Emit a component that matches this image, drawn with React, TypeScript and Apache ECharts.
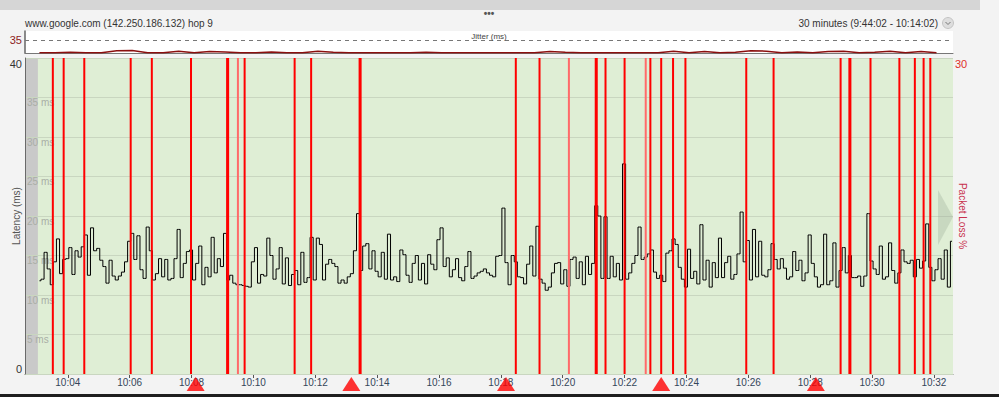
import React, { useEffect, useRef } from 'react';
import * as echarts from 'echarts';

// ---- data ----
const titleText = 'www.google.com (142.250.186.132) hop 9';
const rangeText = '30 minutes (9:44:02 - 10:14:02)';
const tickLabels = ['10:04', '10:06', '10:08', '10:10', '10:12', '10:14', '10:16', '10:18', '10:20', '10:22', '10:24', '10:26', '10:28', '10:30', '10:32'];
const windowStart = '10:02:37';
const windowEnd = '10:32:37';
const sampleStart = '10:03:05';
const sampleStepSec = 6;
const latencyTicks = [0, 5, 10, 15, 20, 25, 30, 35, 40];
const latencyMs = [
  11.8, 12.0, 15.4, 13.3, 11.3, 14.2, 17.1, 12.7, 14.5, 14.6,
  16.0, 12.6, 15.6, 14.8, 16.1, 17.6, 12.5, 18.5, 15.6, 15.9,
  14.4, 13.6, 11.5, 14.4, 12.4, 11.9, 12.4, 12.9, 14.2, 16.8,
  17.8, 14.5, 17.5, 13.2, 12.1, 18.6, 15.6, 11.9, 12.7, 14.6,
  12.3, 14.5, 11.9, 12.1, 14.6, 18.3, 12.2, 14.0, 15.5, 15.7,
  11.9, 14.0, 16.2, 11.3, 13.5, 12.3, 17.3, 12.8, 14.6, 13.6,
  17.8, 11.9, 12.5, 11.5, 11.3, 11.3, 11.2, 11.1, 11.0, 14.2,
  16.0, 11.5, 12.6, 12.4, 17.2,
  15.0, 12.0, 13.3, 16.0, 11.4, 14.7, 11.2, 12.6, 13.1, 11.3,
  15.4, 11.6, 12.2, 17.3, 11.9, 17.2, 16.4, 11.9, 13.9, 14.5,
  14.0, 13.6, 11.5, 11.9, 11.5, 12.3, 12.7, 15.6, 20.3, 13.1,
  16.2, 16.5, 13.3, 15.6, 13.0, 12.3, 15.4, 12.0, 17.7, 11.9,
  12.3, 11.7, 15.7, 15.1, 12.5, 11.6, 14.0, 15.0, 11.9, 14.0,
  11.4, 15.1, 13.9, 13.2, 17.0, 18.5, 13.6, 14.7, 12.3, 13.2,
  14.6, 12.2, 11.8, 13.6, 15.5, 12.1, 12.4, 12.8, 13.0, 13.3,
  12.8, 12.5, 12.3, 14.9, 15.0,
  21.0, 14.1, 11.3, 15.0, 14.2, 12.3, 12.2, 11.4, 13.9, 16.2,
  12.4, 18.7, 12.0, 11.5, 10.6, 11.0, 12.8, 14.0, 14.1, 11.4,
  13.2, 11.1, 14.5, 14.8, 12.1, 14.2, 11.3, 14.9, 12.6, 14.0,
  21.3, 20.0, 12.1, 19.9, 12.1, 14.9, 12.3, 14.0, 11.9, 26.6,
  12.0, 12.8, 14.0, 15.0, 18.6, 14.5, 14.8, 15.2, 15.7, 12.9,
  12.1, 12.5, 11.7, 15.3, 15.6, 17.1, 16.4, 13.5, 12.0, 11.0,
  15.8, 12.1, 13.0, 11.4, 18.9, 11.9, 14.4, 11.0, 14.1, 12.2,
  17.2, 12.2, 14.1, 14.9,
  12.0, 12.6, 15.2, 20.5, 14.2, 16.9, 11.9, 18.3, 12.3, 16.8,
  12.5, 12.3, 13.2, 16.5, 14.5, 13.3, 14.6, 13.4, 12.0, 12.3,
  15.5, 13.1, 14.4, 11.8, 12.8, 17.6, 14.0, 12.3, 11.0, 11.3,
  17.7, 11.3, 11.8, 16.6, 11.0, 13.1, 16.0, 12.8, 15.0, 12.2,
  12.2, 12.4, 11.1, 12.4, 20.3, 14.3, 13.3, 12.6, 16.2, 12.0,
  12.3, 16.6, 13.1, 11.5, 12.8, 15.7, 14.2, 14.0, 14.4, 12.3,
  14.5, 13.4, 14.3, 19.0, 13.5, 11.8, 13.2, 14.6, 12.0, 15.7,
  11.0, 16.8,
];
const jitterStart = '10:03:05';
const jitterStepSec = 30;
const jitterMs = [
  1, 1, 2, 1, 1, 6, 7, 1, 1, 5,
  1, 4, 3, 1, 1, 3, 1, 1, 5, 2,
  1, 1, 1, 1, 1, 2, 1, 1, 1, 1,
  1, 1, 1, 4, 2, 1, 1, 1, 1, 1,
  1, 5, 1, 4, 1, 2, 6, 5, 1, 3,
  1, 4, 5, 1, 2, 5, 1, 4, 1,
];
const jitterThreshold = 35;
const jitterMax = 60;
const lossTimes = [
  '10:03:31', '10:03:52', '10:04:32', '10:06:02', '10:06:43', '10:07:59',
  '10:09:09', '10:09:11', '10:09:43', '10:11:20', '10:11:52', '10:13:26', '10:13:28',
  '10:18:29', '10:19:15', '10:21:04', '10:21:06', '10:21:23', '10:22:00', '10:22:50',
  '10:23:11', '10:23:34', '10:23:58', '10:25:56', '10:26:49', '10:28:59', '10:29:16',
  '10:29:18', '10:29:57', '10:30:53', '10:31:23', '10:31:40', '10:31:53',
];
const partialLossTimes = ['10:09:30', '10:20:12', '10:22:41'];
const lossPercent = 100;
const lossMax = 30;
const markerTimes = ['10:08:08', '10:13:10', '10:18:10', '10:23:11', '10:28:11'];

// ---- helpers ----
const toMin = (s: string) => {
  const p = s.split(':').map(Number);
  return p[0] * 60 + p[1] + (p[2] || 0) / 60;
};
const fmtMin = (m: number) => {
  const r = Math.round(m);
  const h = Math.floor(r / 60);
  const mm = r % 60;
  return `${h}:${mm < 10 ? '0' : ''}${mm}`;
};

const FONT = 'Liberation Sans, Arial, sans-serif';

export default function App() {
  const ref = useRef<HTMLDivElement>(null);
  useEffect(() => {
    if (!ref.current) return;
    const chart = echarts.init(ref.current, undefined, { renderer: 'svg' });
    const t0 = toMin(windowStart);
    const t1 = toMin(windowEnd);
    const s0 = toMin(sampleStart);
    const j0 = toMin(jitterStart);
    const tickVals = tickLabels.map(toMin);
    const latData = latencyMs.map((v, i) => [s0 + (i * sampleStepSec) / 60, v]);
    const jitData = jitterMs.map((v, i) => [j0 + (i * jitterStepSec) / 60, v]);
    const lossData = [
      ...lossTimes.map((t) => ({ value: [toMin(t), lossPercent] })),
      ...partialLossTimes.map((t) => ({ value: [toMin(t), lossPercent], itemStyle: { color: '#ff6a6a' } })),
    ];
    const markData = markerTimes.map((t) => [toMin(t), 0]);

    const option: any = {
      animation: false,
      backgroundColor: '#f3f3f3',
      textStyle: { fontFamily: FONT },
      grid: [
        { left: 25, top: 58, width: 928, height: 316, show: true, backgroundColor: '#dfeed5', borderWidth: 0, outerBoundsMode: 'none', containLabel: false },
        { left: 25, top: 31, width: 928, height: 22, show: true, backgroundColor: '#ffffff', borderWidth: 0, outerBoundsMode: 'none', containLabel: false },
      ],
      xAxis: [
        {
          type: 'value', gridIndex: 0, min: t0, max: t1,
          axisLine: { show: true, lineStyle: { color: '#6a6a6a', width: 1 } },
          axisTick: { show: true, customValues: tickVals, length: 4, lineStyle: { color: '#555' } },
          axisLabel: { customValues: tickVals, formatter: (v: number) => fmtMin(v), color: '#34465a', fontSize: 10, margin: 3, fontFamily: FONT },
          splitLine: { show: false },
        },
        {
          type: 'value', gridIndex: 1, min: t0, max: t1, position: 'top',
          axisLine: { show: true, lineStyle: { color: '#777', width: 1 } },
          axisTick: { show: false }, axisLabel: { show: false }, splitLine: { show: false },
        },
      ],
      yAxis: [
        {
          type: 'value', gridIndex: 0, min: 0, max: 40, interval: 5, position: 'left', z: 3,
          axisLine: { show: false }, axisTick: { show: false },
          axisLabel: {
            inside: true, margin: 2, verticalAlign: 'top', color: '#a9aea6', fontSize: 10, fontFamily: FONT,
            formatter: (v: number) => (v === latencyTicks[0] || v === latencyTicks[latencyTicks.length - 1] ? '' : `${v} ms`),
          },
          splitLine: { show: true, lineStyle: { color: '#c9d6c0', width: 1 } },
        },
        {
          type: 'value', gridIndex: 0, min: 0, max: 40, interval: 40, position: 'left', z: 3,
          name: 'Latency (ms)', nameLocation: 'middle', nameGap: 4, nameMoveOverlap: false,
          nameTextStyle: { color: '#555', fontSize: 10, fontFamily: FONT },
          axisLine: { show: true, lineStyle: { color: '#6a6a6a', width: 1 } }, axisTick: { show: false },
          axisLabel: { color: '#333', fontSize: 11, margin: 3, verticalAlignMaxLabel: 'top', verticalAlignMinLabel: 'bottom', fontFamily: FONT },
          splitLine: { show: false },
        },
        {
          type: 'value', gridIndex: 0, min: 0, max: lossMax, interval: lossMax, position: 'right',
          name: 'Packet Loss %', nameLocation: 'middle', nameRotate: -90, nameGap: 4, nameMoveOverlap: false,
          nameTextStyle: { color: '#c8304c', fontSize: 10, fontFamily: FONT },
          axisLine: { show: false }, axisTick: { show: false },
          axisLabel: { color: '#e0302a', fontSize: 11, margin: 2, verticalAlignMaxLabel: 'top', fontFamily: FONT, formatter: (v: number) => (v === 0 ? '' : String(v)) },
          splitLine: { show: false },
        },
        {
          type: 'value', gridIndex: 1, min: 0, max: jitterMax, position: 'left',
          axisLine: { show: true, lineStyle: { color: '#666', width: 1.5 } }, axisTick: { show: false },
          axisLabel: { customValues: [jitterThreshold], color: '#8e1c1c', fontSize: 11, margin: 3, fontFamily: FONT },
          splitLine: { show: false },
        },
      ],
      series: [
        {
          type: 'line', xAxisIndex: 0, yAxisIndex: 0, data: [], z: 1, silent: true,
          markArea: {
            silent: true, itemStyle: { color: '#c9c9c9' },
            data: [[{ xAxis: t0 }, { xAxis: s0 - sampleStepSec / 120 }]],
          },
        },
        {
          type: 'line', xAxisIndex: 0, yAxisIndex: 0, data: latData, step: 'middle', showSymbol: false,
          lineStyle: { color: '#000', width: 1 }, z: 4,
        },
        {
          type: 'bar', xAxisIndex: 0, yAxisIndex: 2, data: lossData, barWidth: 2, clip: true,
          itemStyle: { color: '#ff0000' }, z: 5,
        },
        {
          type: 'scatter', xAxisIndex: 0, yAxisIndex: 0, data: markData, symbol: 'triangle',
          symbolSize: [18, 14], symbolOffset: [0, 10], clip: false, itemStyle: { color: '#ff0000' }, z: 6,
        },
        {
          type: 'line', xAxisIndex: 1, yAxisIndex: 3, data: jitData, showSymbol: false,
          lineStyle: { color: '#8b0f0f', width: 1.5 }, z: 3,
          markLine: {
            silent: true, symbol: 'none', label: { show: false },
            lineStyle: { color: '#777', type: [4, 4], width: 1 },
            data: [{ yAxis: jitterThreshold }],
          },
        },
      ],
      graphic: [
        { type: 'rect', left: 0, top: 0, shape: { width: 980, height: 10 }, style: { fill: '#d6d6d6' }, z: 0 },
        { type: 'rect', left: 0, top: 394, shape: { width: 999, height: 3 }, style: { fill: '#1e1e1e' }, z: 0 },
        { type: 'text', x: 489, y: 13, style: { text: '•••', fill: '#555', font: `bold 10px ${FONT}`, textAlign: 'center', textVerticalAlign: 'middle' } },
        { type: 'text', x: 25, y: 23, style: { text: titleText, fill: '#333', font: `10px ${FONT}`, textVerticalAlign: 'middle' } },
        { type: 'text', x: 938, y: 23, style: { text: rangeText, fill: '#333', font: `10px ${FONT}`, textAlign: 'right', textVerticalAlign: 'middle' } },
        { type: 'circle', shape: { cx: 948, cy: 23, r: 5.5 }, style: { fill: '#dedede', stroke: '#c4c4c4', lineWidth: 1 } },
        { type: 'polyline', shape: { points: [[945.5, 22], [948, 24.5], [950.5, 22]] }, style: { stroke: '#777', lineWidth: 1, fill: 'none' } },
        { type: 'text', x: 489, y: 36, style: { text: 'Jitter (ms)', fill: '#444', font: `8px ${FONT}`, textAlign: 'center', textVerticalAlign: 'middle' }, z: 10 },
        { type: 'polygon', shape: { points: [[938, 190], [953, 217], [938, 245]] }, style: { fill: 'rgba(150,165,145,0.3)' }, z: 10 },
      ],
    };
    chart.setOption(option);
    return () => chart.dispose();
  }, []);
  return <div ref={ref} style={{ position: 'fixed', left: 0, top: 0, width: 999, height: 397 }} />;
}
